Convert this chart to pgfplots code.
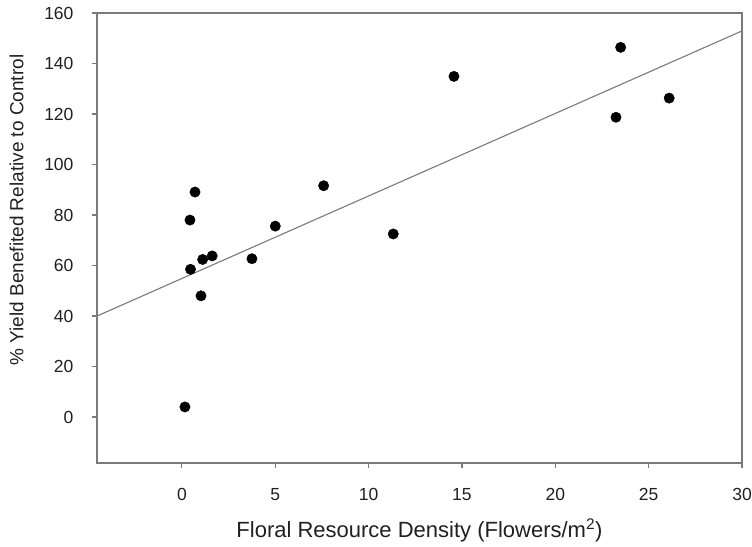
\documentclass[border=0pt]{standalone}
\usepackage{fontspec}
\setmainfont{Liberation Sans}
\usepackage{pgfplots}
\pgfplotsset{compat=1.18}
\definecolor{axgray}{HTML}{7A7A7A}
\definecolor{txt}{HTML}{202020}
\begin{document}
\begin{tikzpicture}
\useasboundingbox (-97pt,-83pt) rectangle (655pt,463pt);
\begin{axis}[
  at={(0pt,0pt)}, anchor=south west,
  scale only axis, width=645pt, height=450pt,
  xmin=-4.55, xmax=30, ymin=-18.2, ymax=160,
  xtick={0,5,...,30}, ytick={0,20,...,160},
  xtick pos=bottom, ytick pos=left, tick align=outside,
  major tick length=5pt,
  axis line style={axgray, line width=1.1pt},
  every tick/.style={axgray, line width=1.1pt},
  /pgf/number format/assume math mode=true,
  ticklabel style={font=\fontsize{17.5}{19}\selectfont, text=txt},
  xticklabel style={anchor=base, yshift=-32pt},
  yticklabel style={anchor=east, xshift=-15pt},
  xlabel={Floral Resource Density (Flowers/m\textsuperscript{2})},
  ylabel={\% Yield Benefited Relative to Control},
  xlabel style={font=\fontsize{22}{24}\selectfont, text=txt, at={(axis description cs:0.5,0)}, anchor=base, yshift=-74pt},
  ylabel style={font=\fontsize{19}{21}\selectfont, text=txt, at={(axis description cs:-0.1248,0.562)}, anchor=center},
]
\addplot[axgray, line width=1.1pt] coordinates {(-4.55,40.0) (30,152.9)};
\addplot[only marks, mark=*, mark size=5.2pt, black] coordinates {
(0.16,4.0) (0.70,89.1) (0.43,78.0) (0.46,58.5) (1.11,62.4) (1.62,63.8)
(1.02,48.0) (3.75,62.7) (5.0,75.6) (7.59,91.6) (11.32,72.5) (14.57,134.9)
(23.5,146.4) (26.1,126.3) (23.25,118.7)
};
\end{axis}
\end{tikzpicture}
\end{document}
